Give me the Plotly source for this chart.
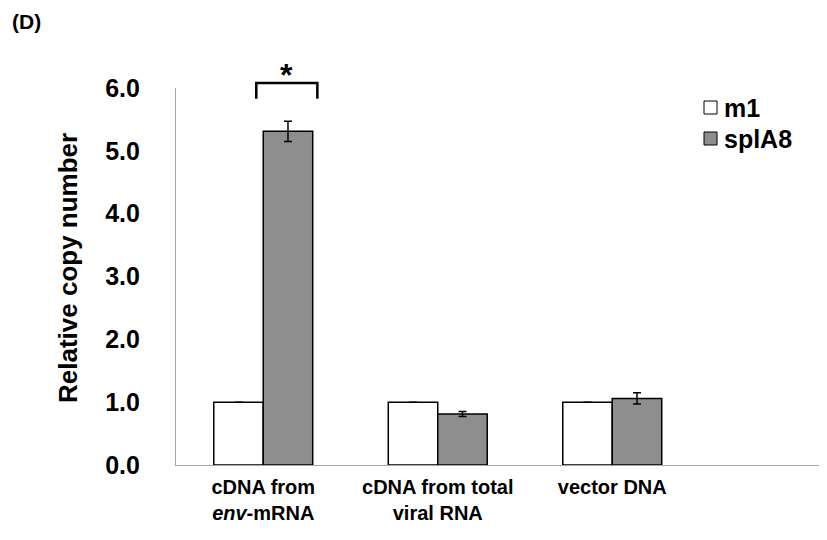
import plotly.graph_objects as go

categories = ["cDNA from<br><i>env</i>-mRNA", "cDNA from total<br>viral RNA", "vector DNA"]
series_names = ["m1", "splA8"]
m1_values = [1.0, 1.0, 1.0]
m1_errors = [0.0, 0.0, 0.0]
spl_values = [5.31, 0.81, 1.06]
spl_errors = [0.16, 0.04, 0.09]
y_ticks = [0, 1, 2, 3, 4, 5, 6]
series_colors = ["white", "#8e8e8e"]

FONT = "Liberation Sans, Arial, sans-serif"

fig = go.Figure()
fig.add_trace(go.Bar(
    x=categories, y=m1_values, name=series_names[0],
    marker=dict(color=series_colors[0], line=dict(color="black", width=1.5)),
    error_y=dict(type="data", array=m1_errors, color="black", thickness=1.5, width=4),
))
fig.add_trace(go.Bar(
    x=categories, y=spl_values, name=series_names[1],
    marker=dict(color=series_colors[1], line=dict(color="black", width=1.5)),
    error_y=dict(type="data", array=spl_errors, color="black", thickness=1.5, width=4),
))

# page has an 8px body margin; figure sized to fit in the 827x540 window
OFF = 8
W, H = 811, 524
L, R, T = 168, 0, 80
plot_w = W - L - R
plot_h = 377
B = H - T - plot_h
x0_page = OFF + L
y0_page = OFF + T + plot_h

xr = [-0.5, -0.5 + plot_w / 174.5]
yr = [0, 6]

def px_x(v):
    return (v - xr[0]) / (xr[1] - xr[0])

def py(v):
    return (v - yr[0]) / (yr[1] - yr[0])

def page_x(p):
    return (p - x0_page) / plot_w

def page_y(p):
    return (y0_page - p) / plot_h

x_left = px_x(-0.04)
x_right = px_x(0.31)
y_top = py(6.08)
y_bot = py(5.83)
shapes = [dict(type="path", xref="paper", yref="paper",
               path=f"M {x_left},{y_bot} L {x_left},{y_top} L {x_right},{y_top} L {x_right},{y_bot}",
               line=dict(color="black", width=2.5))]

annotations = [
    dict(text="<b>*</b>", x=px_x(0.135), y=py(6.2), xref="paper", yref="paper",
         showarrow=False, font=dict(size=32, family=FONT, color="black"),
         xanchor="center", yanchor="middle"),
    dict(text="<b>(D)</b>", x=page_x(10), y=page_y(22),
         xref="paper", yref="paper", showarrow=False,
         font=dict(size=21, family=FONT, color="black"), xanchor="left", yanchor="middle"),
    dict(text="<b>Relative copy number</b>", x=page_x(68), y=page_y(268),
         xref="paper", yref="paper", showarrow=False, textangle=-90,
         font=dict(size=26, family=FONT, color="black"), xanchor="center", yanchor="middle"),
]

legend_rows = [107.5, 138.5]
for name, color, yc in zip(series_names, series_colors, legend_rows):
    shapes.append(dict(type="rect", xref="paper", yref="paper",
                       x0=page_x(704), x1=page_x(717), y0=page_y(yc + 6.5), y1=page_y(yc - 6.5),
                       fillcolor=color, line=dict(color="black", width=1)))
    annotations.append(dict(text=f"<b>{name}</b>", x=page_x(722), y=page_y(yc),
                            xref="paper", yref="paper", showarrow=False,
                            font=dict(size=25, family=FONT, color="black"),
                            xanchor="left", yanchor="middle"))

fig.update_layout(
    width=W, height=H,
    margin=dict(l=L, r=R, t=T, b=B, pad=0),
    paper_bgcolor="white", plot_bgcolor="white",
    barmode="group", bargap=0.433, bargroupgap=0,
    font=dict(family=FONT, color="black"),
    showlegend=False,
    shapes=shapes,
    annotations=annotations,
    xaxis=dict(range=xr, showgrid=False, zeroline=False, showline=True,
               linecolor="#a6a6a6", linewidth=1.2, ticks="",
               tickfont=dict(size=20, family=FONT, color="black", weight="bold"),
               ticklabelstandoff=4),
    yaxis=dict(range=yr, tickvals=y_ticks, tickformat=".1f", showgrid=False,
               zeroline=False, showline=True, linecolor="#a6a6a6", linewidth=1.2,
               ticks="", tickfont=dict(size=25, family=FONT, color="black", weight="bold"),
               ticklabelstandoff=30),
)

fig.write_html("out.html")
